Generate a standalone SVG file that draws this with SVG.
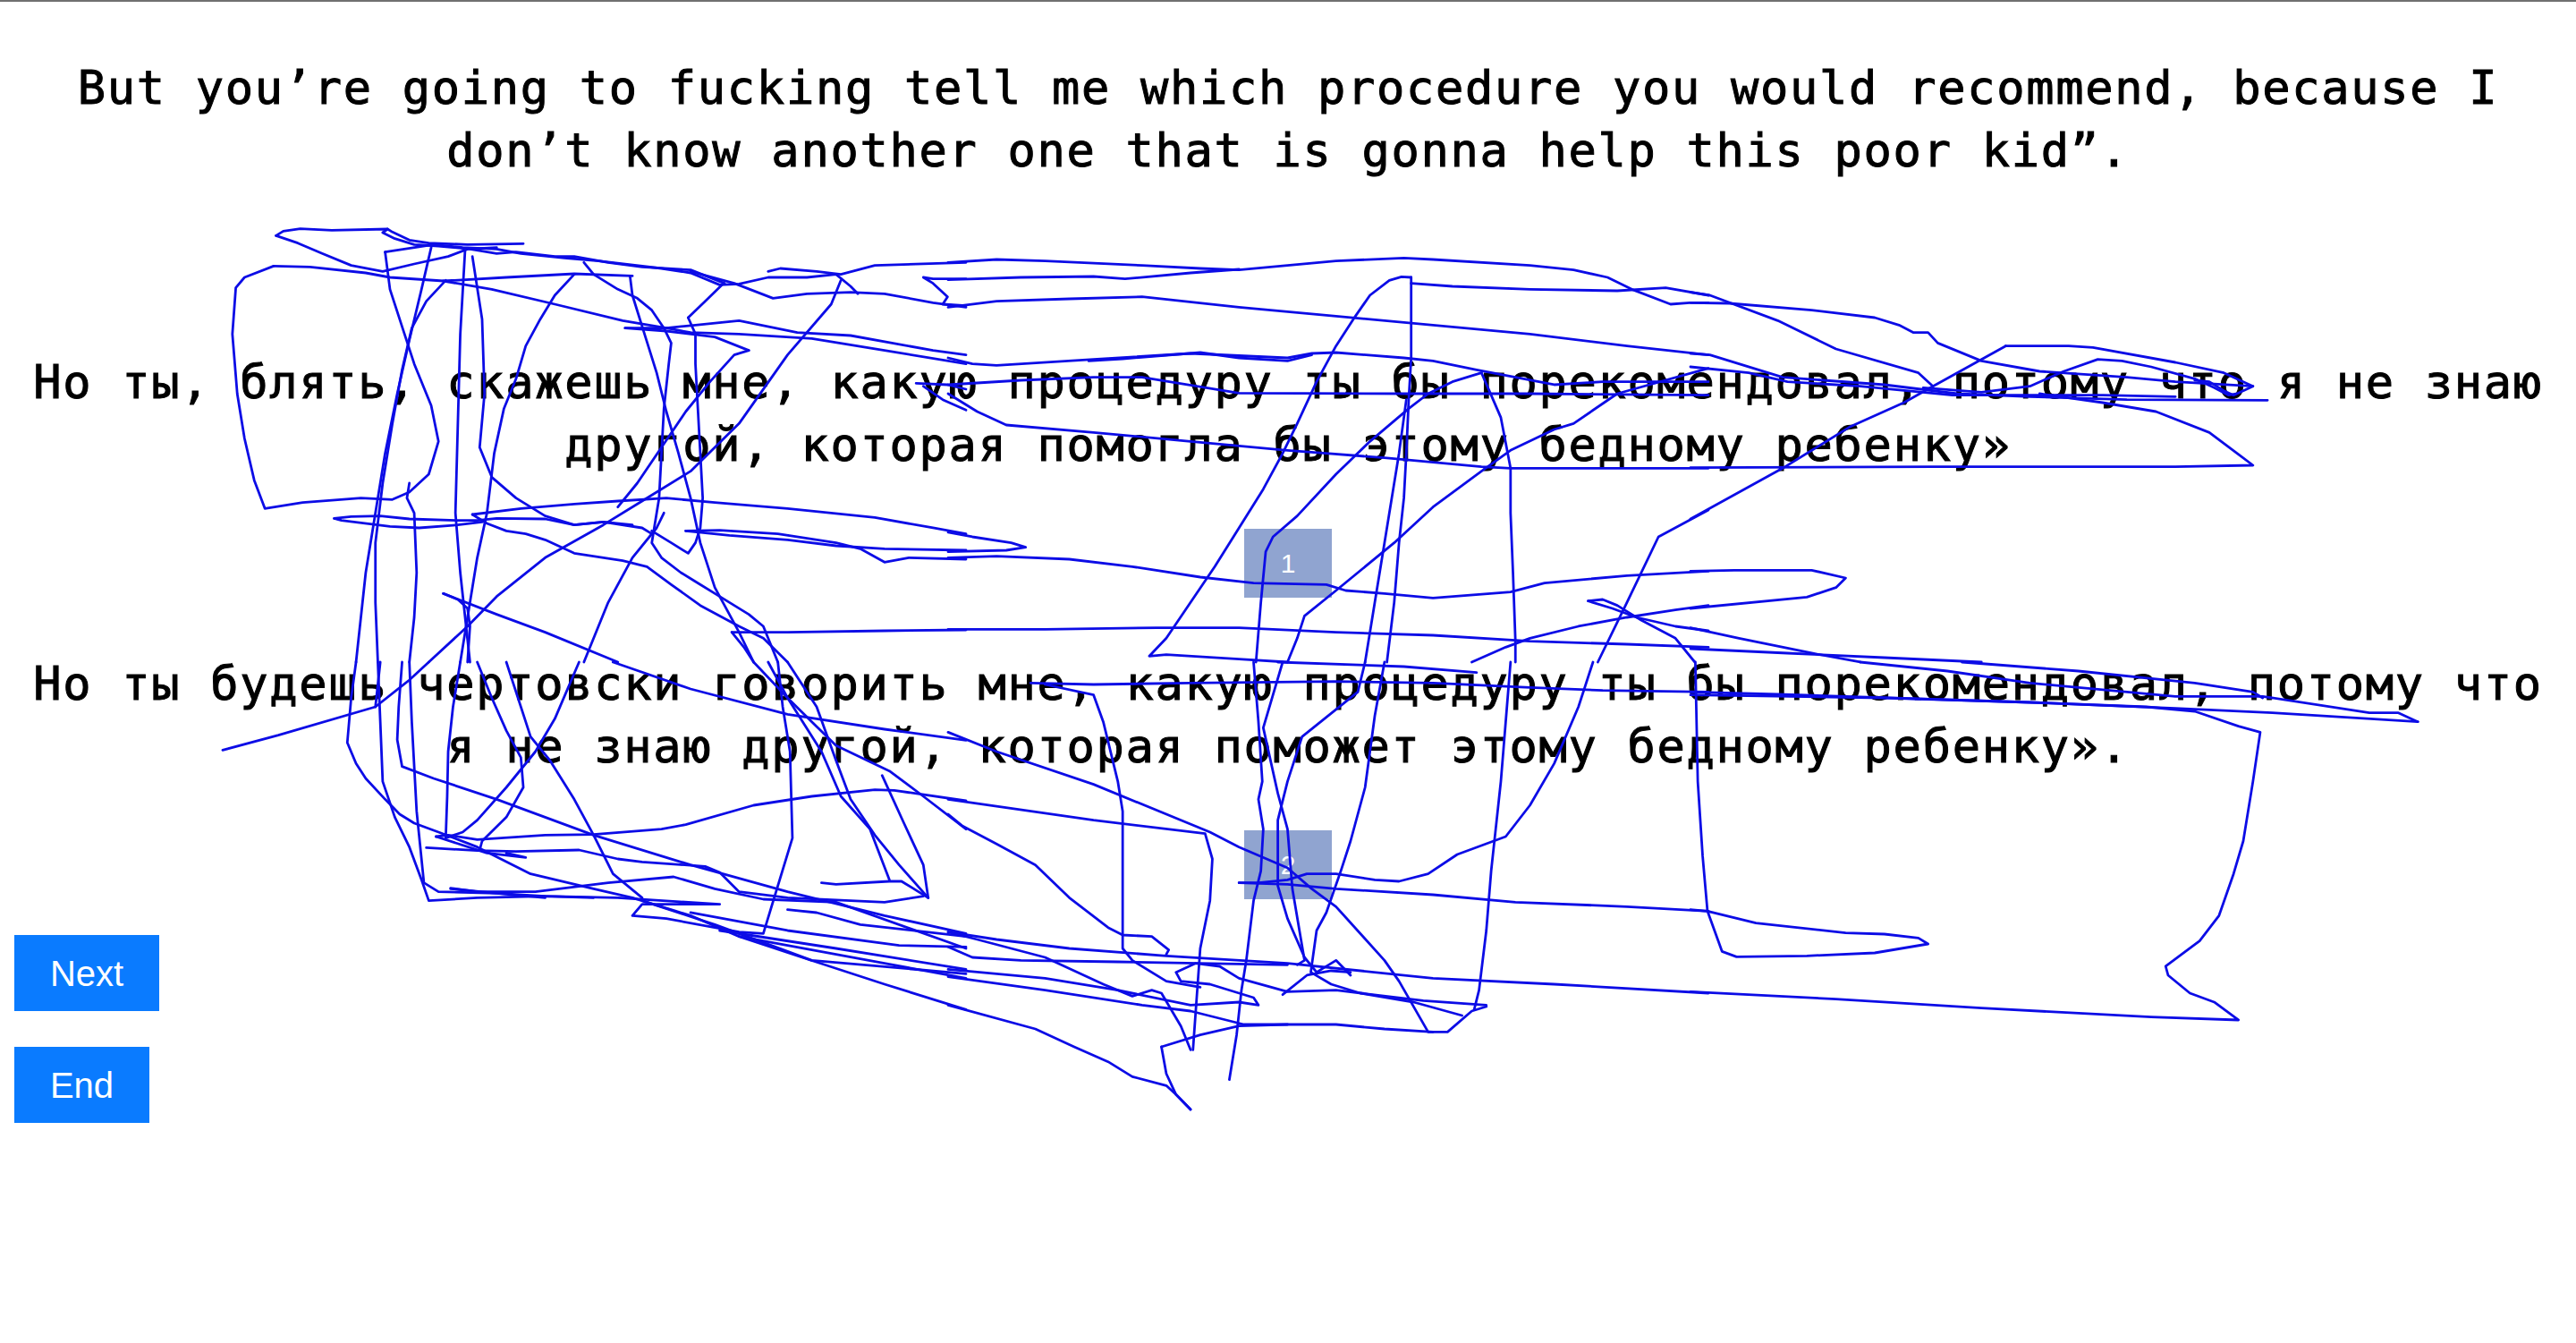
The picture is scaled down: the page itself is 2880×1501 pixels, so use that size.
<svg xmlns="http://www.w3.org/2000/svg" width="2880" height="1501" viewBox="0 0 2880 1501">
<style>
.t{font-family:"DejaVu Sans Mono","Liberation Mono",monospace;font-size:52px;letter-spacing:1.7px;text-anchor:middle;fill:#000;stroke:#000;stroke-width:1px}
.b{font-family:"Liberation Sans",Arial,sans-serif;font-size:40px;text-anchor:middle;fill:#fff}
.n{font-family:"Liberation Sans",Arial,sans-serif;font-size:30px;text-anchor:middle;fill:#fff}
.box{fill:#90a4d0}
.btn{fill:#0a7bff}
.s{fill:none;stroke:#0c0ce6;stroke-width:2.8;stroke-linejoin:round;stroke-linecap:round}
</style>
<rect width="2880" height="1501" fill="#fff"/>
<rect x="0" y="0" width="2880" height="2" fill="#707070"/>
<g id="title-en">
<text class="t" x="1440" y="116">But you’re going to fucking tell me which procedure you would recommend, because I</text>
<text class="t" x="1440" y="186">don’t know another one that is gonna help this poor kid”.</text>
</g>
<g id="text-ru-1">
<text class="t" x="1440" y="445">Но ты, блять, скажешь мне, какую процедуру ты бы порекомендовал, потому что я не знаю</text>
<text class="t" x="1440" y="515">другой, которая помогла бы этому бедному ребенку»</text>
</g>
<g id="text-ru-2">
<text class="t" x="1440" y="782">Но ты будешь чертовски говорить мне, какую процедуру ты бы порекомендовал, потому что</text>
<text class="t" x="1440" y="852">я не знаю другой, которая поможет этому бедному ребенку».</text>
</g>
<g id="box-1"><rect class="box" x="1391" y="591" width="98" height="77"/><text class="n" x="1440" y="640">1</text></g>
<g id="box-2"><rect class="box" x="1391" y="928" width="98" height="77"/><text class="n" x="1440" y="977">2</text></g>
<g id="btn-next"><rect class="btn" x="16" y="1045" width="162" height="85"/><text class="b" x="97" y="1102">Next</text></g>
<g id="btn-end"><rect class="btn" x="16" y="1170" width="151" height="85"/><text class="b" x="91.5" y="1227">End</text></g>
<g id="strokes">
<g transform="translate(230,240) scale(0.54209,0.33333)">
<polyline class="s" vector-effect="non-scaling-stroke" points="145,70 160,55 195,47 260,52 375,48 385,58 420,85 460,95 540,100 655,97"/>
<polyline class="s" vector-effect="non-scaling-stroke" points="145,70 190,95 240,130 300,170 365,190 430,165 500,140 540,115 600,110"/>
<polyline class="s" vector-effect="non-scaling-stroke" points="375,48 365,60 390,80 430,100 480,105 545,115 600,130 640,125 720,140 760,140 830,160 900,175 1000,185 1070,230"/>
<polyline class="s" vector-effect="non-scaling-stroke" points="370,125 470,100 530,110 600,115 650,130 740,145 810,155 940,180 1000,195 1060,235 1100,232 1160,210 1240,210 1300,200 1330,240 1345,265"/>
<polyline class="s" vector-effect="non-scaling-stroke" points="1160,190 1185,180 1260,190 1310,200 1380,170 1568,160"/>
<polyline class="s" vector-effect="non-scaling-stroke" points="1000,190 1090,230 1170,280 1240,265 1330,260 1400,265 1500,295 1568,310"/>
<polyline class="s" vector-effect="non-scaling-stroke" points="1568,215 1500,215 1480,210 1500,230 1530,275 1520,300 1568,305"/>
<polyline class="s" vector-effect="non-scaling-stroke" points="140,172 80,210 62,245 55,400 65,600 80,750 100,890 122,985 200,965 320,950 385,955 420,930 460,870 480,760 465,640 430,500 410,400 380,250 370,125"/>
<polyline class="s" vector-effect="non-scaling-stroke" points="140,172 215,175 330,195 380,210 490,222 590,250 720,300 860,355 950,380 1000,395 1100,400 1250,415 1400,455 1568,500"/>
<polyline class="s" vector-effect="non-scaling-stroke" points="490,222 620,210 760,198 880,205"/>
<polyline class="s" vector-effect="non-scaling-stroke" points="465,110 445,250 420,420 395,600 370,800 350,1000 330,1200 310,1500"/>
<polyline class="s" vector-effect="non-scaling-stroke" points="495,220 455,290 425,380 405,520 385,700 365,900 350,1100 350,1300 355,1500"/>
<polyline class="s" vector-effect="non-scaling-stroke" points="420,900 415,950 430,1000 435,1200 430,1350 420,1500"/>
<polyline class="s" vector-effect="non-scaling-stroke" points="535,115 525,400 520,700 515,1000 525,1200 535,1350 545,1500"/>
<polyline class="s" vector-effect="non-scaling-stroke" points="550,140 570,350 575,600 565,780 590,880 640,950 700,1010 760,1040 820,1030 880,1040"/>
<polyline class="s" vector-effect="non-scaling-stroke" points="760,200 720,270 690,350 660,440 640,550 615,650 595,800 580,1000 560,1150 545,1300 525,1500"/>
<polyline class="s" vector-effect="non-scaling-stroke" points="780,160 800,200 850,250 890,280 920,320 945,380 960,430 955,500 945,650 940,800 935,950 925,1050 920,1100 940,1150 980,1200 1010,1230 1060,1280 1120,1340 1150,1380 1180,1500"/>
<polyline class="s" vector-effect="non-scaling-stroke" points="875,205 880,270 905,400 930,530 950,660 975,800 1000,950 1020,1100 1050,1250 1100,1400 1130,1500"/>
<polyline class="s" vector-effect="non-scaling-stroke" points="995,345 1010,400 1010,500 1015,650 1020,800 1025,950 1020,1050 1010,1100 995,1135 960,1100 920,1060"/>
<polyline class="s" vector-effect="non-scaling-stroke" points="1065,235 1030,290 995,345"/>
<polyline class="s" vector-effect="non-scaling-stroke" points="1310,220 1290,300 1200,470 1100,700 1000,860 900,960 820,1040 700,1150 600,1280 540,1380 460,1500"/>
<polyline class="s" vector-effect="non-scaling-stroke" points="1120,455 1090,470 1040,560 990,660 940,780 890,900 850,980"/>
<polyline class="s" vector-effect="non-scaling-stroke" points="265,1018 300,1012 360,1010 420,1020 520,1025 560,1025 600,1018 700,1020 760,1040 820,1030 900,1050 920,1070"/>
<polyline class="s" vector-effect="non-scaling-stroke" points="265,1018 280,1025 380,1045 440,1050 520,1040 570,1030"/>
<polyline class="s" vector-effect="non-scaling-stroke" points="550,1005 580,1035 620,1060 660,1070 700,1090 760,1135 860,1160 910,1180 960,1240 1020,1310 1100,1380 1150,1420 1200,1500"/>
<polyline class="s" vector-effect="non-scaling-stroke" points="550,1005 650,985 760,970 850,960 950,950 1050,965 1200,985 1380,1015 1500,1050 1568,1070"/>
<polyline class="s" vector-effect="non-scaling-stroke" points="990,1060 1060,1058 1180,1070 1300,1100 1350,1120 1400,1165 1450,1150 1568,1155"/>
<polyline class="s" vector-effect="non-scaling-stroke" points="990,1060 1080,1075 1200,1090 1300,1110 1400,1120 1568,1125"/>
<polyline class="s" vector-effect="non-scaling-stroke" points="865,380 950,380 1010,370 1100,355 1220,395 1330,405 1500,455 1568,470"/>
<polyline class="s" vector-effect="non-scaling-stroke" points="865,380 950,390 1050,410 1120,455"/>
<polyline class="s" vector-effect="non-scaling-stroke" points="490,1270 520,1290 540,1320 545,1380 540,1500"/>
<polyline class="s" vector-effect="non-scaling-stroke" points="490,1270 600,1340 700,1400 850,1500"/>
<polyline class="s" vector-effect="non-scaling-stroke" points="1085,1400 1200,1400 1400,1395 1568,1392"/>
<polyline class="s" vector-effect="non-scaling-stroke" points="1085,1400 1110,1450 1130,1500"/>
<polyline class="s" vector-effect="non-scaling-stroke" points="780,1500 830,1300 880,1150 930,1050 945,1000"/>
<polyline class="s" vector-effect="non-scaling-stroke" points="1465,565 1530,570 1568,585"/>
<polyline class="s" vector-effect="non-scaling-stroke" points="1480,575 1520,620 1568,655"/>
</g>
<g transform="translate(1060,240) scale(0.54209,0.33333)">
<polyline class="s" vector-effect="non-scaling-stroke" points="0,160 100,150 200,155 400,170 520,180 600,185 700,170 800,155 940,145 1000,150 1200,170 1290,185 1360,210 1410,250 1490,300 1530,295 1568,295"/>
<polyline class="s" vector-effect="non-scaling-stroke" points="0,218 150,210 300,207 365,215 500,195 600,183"/>
<polyline class="s" vector-effect="non-scaling-stroke" points="955,210 955,480 950,620 945,800 940,950 930,1100 920,1300 905,1500"/>
<polyline class="s" vector-effect="non-scaling-stroke" points="955,210 935,208 910,220 870,270 840,340 800,440 760,560 720,700 690,800 650,920 600,1050 550,1180 500,1300 450,1420 415,1480 450,1475 600,1490 700,1500"/>
<polyline class="s" vector-effect="non-scaling-stroke" points="955,230 1040,240 1200,250 1380,255 1480,245 1568,270"/>
<polyline class="s" vector-effect="non-scaling-stroke" points="0,310 100,290 250,282 400,275 600,310 800,340 1000,370 1200,400 1400,440 1568,470"/>
<polyline class="s" vector-effect="non-scaling-stroke" points="0,480 50,500 100,505 300,485 500,465 700,480 750,465 800,462 940,480 1000,490 1090,520 1250,570 1350,560 1568,560"/>
<polyline class="s" vector-effect="non-scaling-stroke" points="290,490 360,483 520,462 600,480 700,490 750,470"/>
<polyline class="s" vector-effect="non-scaling-stroke" points="0,570 150,555 300,545 400,545 600,598 950,600 1200,600 1568,605"/>
<polyline class="s" vector-effect="non-scaling-stroke" points="0,600 60,660 120,705 300,730 500,760 700,790 900,815 1100,845 1160,850 1568,850"/>
<polyline class="s" vector-effect="non-scaling-stroke" points="1100,530 1040,560 990,600 950,650 870,760 800,870 720,1010 670,1080 655,1130 645,1300 635,1500"/>
<polyline class="s" vector-effect="non-scaling-stroke" points="1568,515 1380,600 1290,700 1250,720 1160,790 1100,860 1000,980 920,1100 800,1260 735,1345 720,1420 700,1500"/>
<polyline class="s" vector-effect="non-scaling-stroke" points="1100,530 1140,680 1160,850 1160,1000 1165,1200 1170,1430 1170,1500"/>
<polyline class="s" vector-effect="non-scaling-stroke" points="0,1065 50,1080 130,1100 160,1115 120,1125 0,1130"/>
<polyline class="s" vector-effect="non-scaling-stroke" points="0,1150 100,1145 250,1155 380,1180 520,1215 630,1235 780,1240 820,1260 900,1270 1000,1285 1160,1265 1230,1235 1400,1210 1568,1195"/>
<polyline class="s" vector-effect="non-scaling-stroke" points="0,1390 200,1390 430,1385 600,1385 800,1400 1000,1410 1200,1430 1400,1440 1568,1450"/>
<polyline class="s" vector-effect="non-scaling-stroke" points="1320,1295 1350,1290 1380,1310 1430,1360 1500,1420 1540,1500"/>
<polyline class="s" vector-effect="non-scaling-stroke" points="1320,1295 1370,1320 1420,1350 1500,1380 1568,1395"/>
<polyline class="s" vector-effect="non-scaling-stroke" points="1568,1310 1500,1325 1400,1350 1300,1380 1200,1420 1150,1450 1080,1500"/>
<polyline class="s" vector-effect="non-scaling-stroke" points="1568,990 1465,1080 1400,1300 1340,1500"/>
<polyline class="s" vector-effect="non-scaling-stroke" points="945,620 930,800 900,1100 880,1300 860,1500"/>
</g>
<g transform="translate(1890,240) scale(0.54209,0.33333)">
<polyline class="s" vector-effect="non-scaling-stroke" points="0,260 40,270 180,355 300,450 470,530 500,575"/>
<polyline class="s" vector-effect="non-scaling-stroke" points="0,295 80,297 250,320 380,345 430,370 460,395 490,395 510,430 600,490 720,525 900,545 1000,560 1160,575"/>
<polyline class="s" vector-effect="non-scaling-stroke" points="0,465 40,470 190,545 400,570 550,600 700,610 900,620 1190,622"/>
<polyline class="s" vector-effect="non-scaling-stroke" points="0,510 120,530 200,560 350,575 540,605 850,605 1000,610"/>
<polyline class="s" vector-effect="non-scaling-stroke" points="650,440 780,440 830,445 1000,495 1100,530 1140,560 1160,575 1120,605 1100,590 1070,560 1040,555"/>
<polyline class="s" vector-effect="non-scaling-stroke" points="650,440 600,485 500,575 440,630 330,710 190,850 0,1020"/>
<polyline class="s" vector-effect="non-scaling-stroke" points="480,580 600,595 700,575 770,525 840,485 890,490 950,510 1040,550 1080,580 1110,605 1125,600"/>
<polyline class="s" vector-effect="non-scaling-stroke" points="720,600 850,630 960,660 1070,730 1160,840 1000,845 500,845 0,848"/>
<polyline class="s" vector-effect="non-scaling-stroke" points="0,1195 90,1192 250,1192 320,1218 300,1250 240,1282 0,1320"/>
<polyline class="s" vector-effect="non-scaling-stroke" points="0,1385 100,1420 250,1470 350,1500"/>
<polyline class="s" vector-effect="non-scaling-stroke" points="0,1455 200,1470 400,1485 600,1500"/>
</g>
<g transform="translate(230,740) scale(0.54209,0.33333)">
<polyline class="s" vector-effect="non-scaling-stroke" points="35,295 150,245 350,150 420,60 460,0"/>
<polyline class="s" vector-effect="non-scaling-stroke" points="350,150 360,0"/>
<polyline class="s" vector-effect="non-scaling-stroke" points="310,0 300,120 292,270 310,340 330,390 370,460 400,510 430,540 480,570 560,620 670,710 800,760 880,790"/>
<polyline class="s" vector-effect="non-scaling-stroke" points="355,0 360,200 365,400 390,520 420,620 445,730 460,800 560,790 700,785 800,790"/>
<polyline class="s" vector-effect="non-scaling-stroke" points="405,0 398,150 395,260 405,350 470,390 600,460 800,580 1000,680 1200,770 1400,850 1568,910"/>
<polyline class="s" vector-effect="non-scaling-stroke" points="420,0 425,200 435,500 450,740 480,770 600,775 700,790"/>
<polyline class="s" vector-effect="non-scaling-stroke" points="525,0 510,150 500,300 498,450 495,590 530,570 560,530 620,420 680,300 720,190 770,0"/>
<polyline class="s" vector-effect="non-scaling-stroke" points="560,0 590,120 620,230 650,320 655,420 620,520 570,600 565,630"/>
<polyline class="s" vector-effect="non-scaling-stroke" points="620,0 670,250 710,330 760,460 800,580 840,710 900,790"/>
<polyline class="s" vector-effect="non-scaling-stroke" points="475,585 500,580 560,595 700,580 800,578 940,560 990,545 1130,480 1250,450 1380,428 1420,430 1568,465"/>
<polyline class="s" vector-effect="non-scaling-stroke" points="455,622 560,632 640,635 770,630 850,660 900,670 1030,685 1060,705 1100,770 1200,790 1400,805 1480,785"/>
<polyline class="s" vector-effect="non-scaling-stroke" points="475,585 580,640 660,655 620,640"/>
<polyline class="s" vector-effect="non-scaling-stroke" points="505,758 560,770 680,770 830,740 965,720 1050,760 1150,795 1300,805 1568,960"/>
<polyline class="s" vector-effect="non-scaling-stroke" points="505,760 600,775 700,785 850,790 1060,812 900,812 880,850 950,860 1100,905 1150,910 1210,590 1205,300 1190,150 1180,0"/>
<polyline class="s" vector-effect="non-scaling-stroke" points="1160,0 1200,120 1270,300 1310,450 1370,560 1410,730"/>
<polyline class="s" vector-effect="non-scaling-stroke" points="1200,0 1260,150 1300,330 1330,460 1380,580 1430,680 1490,790"/>
<polyline class="s" vector-effect="non-scaling-stroke" points="1130,0 1200,120 1250,200 1300,280 1410,365 1480,450 1568,560"/>
<polyline class="s" vector-effect="non-scaling-stroke" points="840,0 1000,90 1200,175 1400,225 1568,262"/>
<polyline class="s" vector-effect="non-scaling-stroke" points="1270,740 1300,745 1410,735 1435,735 1490,790"/>
<polyline class="s" vector-effect="non-scaling-stroke" points="1395,380 1440,540 1480,680 1490,790"/>
<polyline class="s" vector-effect="non-scaling-stroke" points="880,790 1000,850 1100,920 1230,990 1400,1080 1568,1165"/>
<polyline class="s" vector-effect="non-scaling-stroke" points="900,800 1050,880 1250,1000 1568,1045"/>
<polyline class="s" vector-effect="non-scaling-stroke" points="1000,840 1200,900 1430,950 1568,955"/>
<polyline class="s" vector-effect="non-scaling-stroke" points="1060,900 1300,960 1568,1030"/>
<polyline class="s" vector-effect="non-scaling-stroke" points="1100,920 1400,1010 1568,1060"/>
<polyline class="s" vector-effect="non-scaling-stroke" points="1200,830 1260,840 1350,880 1568,920"/>
</g>
<g transform="translate(1060,740) scale(0.54209,0.33333)">
<polyline class="s" vector-effect="non-scaling-stroke" points="170,70 300,75 500,70 800,65 1000,70 1200,85 1350,95 1568,100"/>
<polyline class="s" vector-effect="non-scaling-stroke" points="680,0 940,15 1090,35"/>
<polyline class="s" vector-effect="non-scaling-stroke" points="200,75 300,110 320,200 350,400 360,500 360,700 360,960 380,1000 450,1070 520,1090"/>
<polyline class="s" vector-effect="non-scaling-stroke" points="0,235 100,300 300,410 540,570 600,620 700,690 750,760 800,820 900,1000 930,1070 990,1240 1030,1240 1080,1170 1110,1155"/>
<polyline class="s" vector-effect="non-scaling-stroke" points="0,460 300,530 530,575 545,660 540,800 520,960 505,1300"/>
<polyline class="s" vector-effect="non-scaling-stroke" points="0,510 30,550 100,610 180,680 250,790 330,890 360,915 420,920 455,965 450,980"/>
<polyline class="s" vector-effect="non-scaling-stroke" points="630,0 640,200 648,400 640,460 650,560 645,700 630,800 615,1000 605,1100 595,1250 585,1350 580,1400"/>
<polyline class="s" vector-effect="non-scaling-stroke" points="690,0 650,220 680,440 700,560 710,760 735,1000 720,1015"/>
<polyline class="s" vector-effect="non-scaling-stroke" points="860,0 845,100 730,250 700,400 680,530 680,750 700,860 735,990 760,1040 800,1000 830,1050"/>
<polyline class="s" vector-effect="non-scaling-stroke" points="900,0 880,180 860,420 830,600 810,700 780,840 760,900 748,1040 790,1080 850,1110 960,1140 1060,1185"/>
<polyline class="s" vector-effect="non-scaling-stroke" points="1160,0 1150,200 1140,400 1120,700 1110,900 1095,1100 1085,1165"/>
<polyline class="s" vector-effect="non-scaling-stroke" points="1330,0 1300,150 1250,340 1200,480 1150,585 1050,645 990,710 930,735 880,730 800,710 740,710 700,730 640,740 600,740"/>
<polyline class="s" vector-effect="non-scaling-stroke" points="600,740 700,745 800,760 1000,780 1170,805 1400,820 1568,835"/>
<polyline class="s" vector-effect="non-scaling-stroke" points="0,905 100,930 250,960 450,985 700,1010 1000,1060 1250,1080 1568,1110"/>
<polyline class="s" vector-effect="non-scaling-stroke" points="0,955 50,990 150,1000 350,1005 700,1015"/>
<polyline class="s" vector-effect="non-scaling-stroke" points="0,905 60,930 200,990 320,1080 380,1120 420,1100 440,1110 480,1220 500,1300"/>
<polyline class="s" vector-effect="non-scaling-stroke" points="0,1030 200,1060 350,1100 500,1150 600,1140 640,1150 630,1125 540,1080 480,1070 470,1040 510,1010 560,1020 600,1060 700,1105 800,1100 980,1135 1110,1150"/>
<polyline class="s" vector-effect="non-scaling-stroke" points="0,1055 200,1100 400,1150 500,1170 610,1215 800,1215 900,1230 1000,1240"/>
<polyline class="s" vector-effect="non-scaling-stroke" points="0,1150 180,1230 260,1290 330,1340 380,1390 450,1420 470,1450 500,1500"/>
<polyline class="s" vector-effect="non-scaling-stroke" points="440,1290 520,1250 600,1220 700,1215"/>
<polyline class="s" vector-effect="non-scaling-stroke" points="440,1290 450,1380 470,1450 500,1500"/>
<polyline class="s" vector-effect="non-scaling-stroke" points="690,1115 740,1050 790,1035 830,1040"/>
</g>
<g transform="translate(1890,740) scale(0.54209,0.33333)">
<polyline class="s" vector-effect="non-scaling-stroke" points="0,100 180,108 700,135 1000,155 1200,170 1500,200"/>
<polyline class="s" vector-effect="non-scaling-stroke" points="350,0 530,30 700,70 1000,115 1180,115 1400,170 1460,170 1500,200"/>
<polyline class="s" vector-effect="non-scaling-stroke" points="0,110 400,120 700,135 940,150 1040,165 1130,215 1175,235 1160,400 1140,600 1120,710 1090,850 1050,935 980,1020 985,1050 1030,1110 1080,1140 1130,1200 950,1190 600,1160 300,1130 0,1105"/>
<polyline class="s" vector-effect="non-scaling-stroke" points="10,0 15,400 25,650 35,835 65,970 95,988 240,985 380,975 490,945 470,925 400,912 320,908 135,875 35,835 0,830"/>
<polyline class="s" vector-effect="non-scaling-stroke" points="560,0 800,30 1040,70 1160,100 1180,120"/>
</g>
</g>
</svg>
